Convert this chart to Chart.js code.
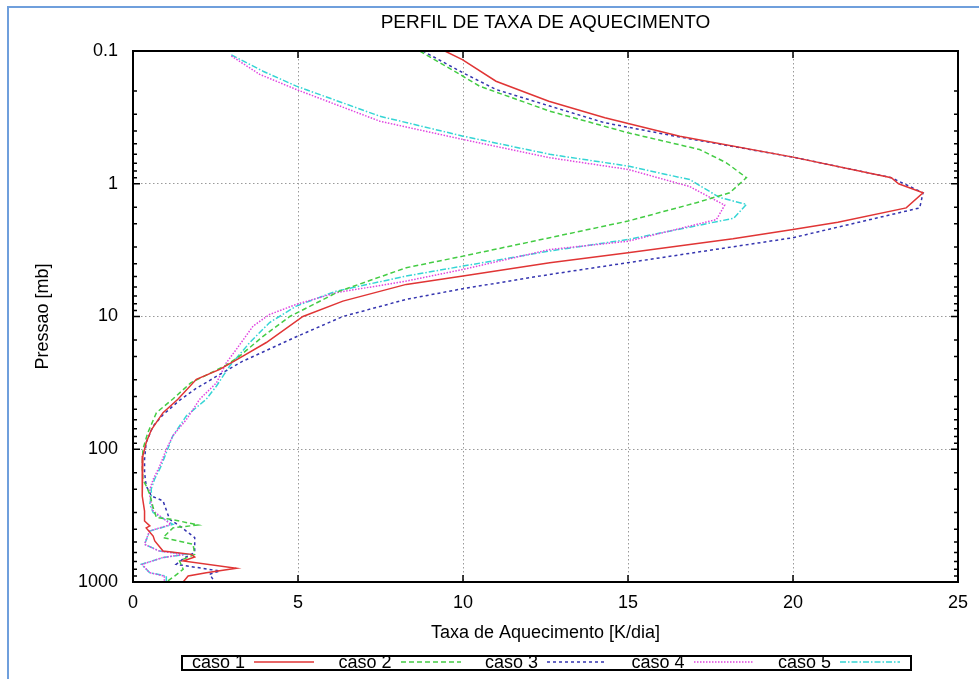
<!DOCTYPE html>
<html>
<head>
<meta charset="utf-8">
<script src="https://cdn.jsdelivr.net/npm/chart.js@4.4.1/dist/chart.umd.min.js"></script>
<style>
  html, body { margin: 0; padding: 0; background: #fff; overflow: hidden; }
  #page { position: relative; width: 979px; height: 679px; font-family: "Liberation Sans", Arial, sans-serif; }
  #edge { position: absolute; left: 7px; top: 6px; width: 1000px; height: 700px;
          border-left: 2px solid #6f9fdc; border-top: 2px solid #6f9fdc; }
  #chart { position: absolute; left: 0; top: 0; }
  #legendBox { position: absolute; left: 181px; top: 655px; width: 727px; height: 12px; border: 2px solid #000; }
  .lbl { position: absolute; top: 653px; font-size: 18px; line-height: 18px; color: #000; white-space: nowrap; }
  .smp { position: absolute; top: 657px; }
</style>
</head>
<body>
<div id="page">
  <div id="edge"></div>
  <canvas id="chart" width="979" height="679"></canvas>
  <div id="legendBox"></div>
  <div id="legend"></div>
</div>
<script>
// heating rate [K/dia] against pressure [mb]
const caso1X = [9.45, 9.98, 11.0, 12.6, 14.3, 16.57, 20.0, 22.98, 23.2, 23.94, 23.43, 21.36, 20.0, 18.18, 15.0, 12.63, 10.0, 8.28, 6.36, 5.15, 4.04, 3.33, 2.63, 1.92, 1.36, 0.91, 0.56, 0.4, 0.3, 0.28, 0.28, 0.35, 0.35, 0.51, 0.4, 0.61, 0.66, 0.91, 1.77, 1.87, 1.52, 3.13, 2.22, 1.67, 1.52];
const caso1P = [0.1, 0.116, 0.169, 0.239, 0.318, 0.438, 0.63, 0.9, 1.0, 1.17, 1.52, 1.95, 2.21, 2.6, 3.31, 3.93, 4.96, 5.73, 7.66, 10, 15.7, 19.9, 25, 29.7, 42, 53, 71, 89, 112, 159, 225, 292, 347, 378, 391, 451, 491, 585, 619, 647, 694, 789, 851, 902, 1000];

const caso2X = [8.69, 10.0, 10.5, 12.63, 15.0, 17.17, 17.98, 18.59, 18.08, 17.07, 15.0, 12.63, 10.0, 8.28, 6.26, 4.75, 3.94, 3.23, 2.78, 1.75, 1.2, 0.71, 0.45, 0.3, 0.28, 0.3, 0.4, 0.51, 0.61, 0.71, 1.16, 1.97, 1.21, 0.91, 1.82, 1.87, 1.41, 1.52, 1.26, 1.01];
const caso2P = [0.1, 0.155, 0.184, 0.284, 0.413, 0.552, 0.695, 0.9, 1.17, 1.39, 1.91, 2.55, 3.51, 4.29, 6.44, 10, 14.1, 19.9, 23.6, 31.6, 42, 53, 75, 100, 134, 169, 189, 219, 275, 327, 337, 372, 391, 463, 520, 619, 694, 802, 902, 1000];

const caso3X = [8.78, 10.0, 11.0, 12.63, 14.29, 16.57, 20.0, 22.98, 23.94, 23.84, 20.0, 15.0, 12.63, 10.0, 8.28, 6.36, 4.95, 3.33, 2.63, 1.9, 1.4, 0.91, 0.61, 0.4, 0.35, 0.35, 0.4, 0.56, 0.91, 1.11, 1.41, 1.87, 1.87, 1.57, 1.31, 2.63, 2.32, 2.48];
const caso3P = [0.1, 0.146, 0.195, 0.26, 0.347, 0.445, 0.63, 0.9, 1.17, 1.52, 2.55, 3.93, 4.82, 6.17, 7.43, 10, 14.2, 21.7, 27.3, 35, 43, 55, 67, 89, 119, 150, 189, 225, 245, 337, 378, 463, 600, 655, 736, 826, 875, 1000];

const caso4X = [2.98, 3.84, 4.95, 7.48, 10.0, 12.63, 15.0, 16.87, 17.93, 17.68, 15.0, 12.63, 10.0, 8.28, 6.16, 4.95, 4.14, 3.64, 3.13, 2.83, 2.53, 2.02, 1.62, 1.21, 1.01, 0.81, 0.61, 0.51, 0.51, 0.6, 1.15, 0.5, 0.35, 0.8, 1.55, 0.9, 0.28, 0.5, 0.95, 0.95];
const caso4P = [0.109, 0.15, 0.195, 0.338, 0.464, 0.637, 0.78, 1.05, 1.45, 1.86, 2.71, 3.13, 4.42, 5.41, 6.62, 8.1, 9.65, 11.8, 17.7, 22.3, 31.6, 42, 59.6, 79, 100, 134, 169, 200, 225, 290, 368, 413, 520, 585, 619, 655, 736, 851, 902, 1000];

const caso5X = [2.98, 3.94, 4.95, 7.48, 10.0, 12.63, 15.0, 16.87, 17.78, 18.59, 18.2, 15.0, 12.63, 10.0, 8.28, 6.16, 4.95, 4.14, 3.54, 2.93, 2.53, 2.22, 1.62, 1.2, 1.05, 0.85, 0.65, 0.55, 0.56, 0.51, 0.61, 1.21, 0.51, 0.35, 0.81, 1.62, 0.91, 0.25, 0.51, 1.01, 1.01];
const caso5P = [0.107, 0.142, 0.184, 0.31, 0.438, 0.6, 0.736, 0.93, 1.27, 1.43, 1.82, 2.63, 3.21, 4.17, 4.96, 6.44, 8.35, 11.1, 15.7, 23.6, 33.4, 42, 56, 80, 100, 134, 169, 200, 219, 260, 300, 368, 413, 520, 585, 619, 655, 736, 851, 902, 1000];

const seriesNames = ["caso 1", "caso 2", "caso 3", "caso 4", "caso 5"];
const seriesX = [caso1X, caso2X, caso3X, caso4X, caso5X];
const seriesP = [caso1P, caso2P, caso3P, caso4P, caso5P];
const seriesColors = ["#e03535", "#44cc44", "#3535b0", "#e045e0", "#35d5d5"];
const seriesDash = [[], [5, 3], [3, 3], [1.5, 1.5], [6, 2, 1.5, 2]];

const xTicks = [0, 5, 10, 15, 20, 25];

const titleText = "PERFIL DE TAXA DE AQUECIMENTO";
const xTitle = "Taxa de Aquecimento [K/dia]";
const yTitle = "Pressao [mb]";

function isMajor(v) {
  const l = Math.log10(v);
  return Math.abs(l - Math.round(l)) < 1e-6;
}

Chart.defaults.font.family = '"Liberation Sans", Arial, sans-serif';
Chart.defaults.font.size = 18;
Chart.defaults.color = "#000";

const datasets = seriesNames.map((name, i) => ({
  label: name,
  data: seriesP[i].map((p, k) => ({ x: seriesX[i][k], y: p })),
  showLine: true,
  borderColor: seriesColors[i],
  backgroundColor: seriesColors[i],
  borderDash: seriesDash[i],
  borderWidth: 1.5,
  pointRadius: 0,
  tension: 0
}));

// gnuplot style frame, inward tics and the title
const framePlugin = {
  id: "frame",
  afterDraw(chart) {
    const { ctx, chartArea: a } = chart;
    const x = chart.scales.x, y = chart.scales.y;
    ctx.save();
    ctx.strokeStyle = "#000";
    ctx.lineWidth = 1.5;
    ctx.beginPath();
    y.ticks.forEach(t => {
      const py = y.getPixelForValue(t.value);
      const len = isMajor(t.value) ? 7 : 4;
      ctx.moveTo(a.left, py); ctx.lineTo(a.left + len, py);
      ctx.moveTo(a.right, py); ctx.lineTo(a.right - len, py);
    });
    x.ticks.forEach(t => {
      const px = x.getPixelForValue(t.value);
      ctx.moveTo(px, a.bottom); ctx.lineTo(px, a.bottom - 7);
      ctx.moveTo(px, a.top); ctx.lineTo(px, a.top + 7);
    });
    ctx.stroke();
    ctx.lineWidth = 2;
    ctx.strokeRect(a.left, a.top, a.right - a.left, a.bottom - a.top);
    ctx.fillStyle = "#000";
    ctx.font = '19px "Liberation Sans", Arial, sans-serif';
    ctx.textAlign = "center";
    ctx.textBaseline = "middle";
    ctx.fillText(titleText, (a.left + a.right) / 2, 23);
    ctx.restore();
  }
};

const chart = new Chart(document.getElementById("chart"), {
  type: "scatter",
  data: { datasets },
  options: {
    responsive: false,
    animation: false,
    layout: { padding: { left: 20, top: 51, right: 21, bottom: 35 } },
    plugins: { legend: { display: false }, tooltip: { enabled: false }, title: { display: false } },
    scales: {
      x: {
        type: "linear", min: 0, max: 25,
        afterBuildTicks: s => { s.ticks = xTicks.map(v => ({ value: v })); },
        ticks: { padding: 10, maxRotation: 0 },
        grid: {
          drawTicks: false, lineWidth: 1,
          color: c => (c.tick && (c.tick.value === 0 || c.tick.value === 25)) ? "rgba(0,0,0,0)" : "#9a9a9a"
        },
        border: { display: false, dash: [1.5, 2.5] },
        title: { display: true, text: xTitle, padding: { top: 0, bottom: 0 } },
        afterFit: s => { s.height = 62; }
      },
      y: {
        type: "logarithmic", reverse: true, min: 0.1, max: 1000,
        ticks: {
          autoSkip: false, padding: 15,
          callback: v => isMajor(v) ? String(Number(v.toPrecision(6))) : ""
        },
        grid: {
          drawTicks: false, lineWidth: 1,
          color: c => (c.tick && isMajor(c.tick.value) && c.tick.value > 0.15 && c.tick.value < 900) ? "#9a9a9a" : "rgba(0,0,0,0)"
        },
        border: { display: false, dash: [1.5, 2.5] },
        title: { display: true, text: yTitle, padding: { top: 12, bottom: 0 } },
        afterFit: s => { s.width = 113; }
      }
    }
  },
  plugins: [framePlugin]
});

// legend in gnuplot order: label first, then the line sample
const legend = document.getElementById("legend");
chart.data.datasets.forEach((ds, i) => {
  const left = 192 + i * 146.5;
  const lbl = document.createElement("div");
  lbl.className = "lbl";
  lbl.style.left = left + "px";
  lbl.textContent = ds.label;
  legend.appendChild(lbl);
  const svgNS = "http://www.w3.org/2000/svg";
  const svg = document.createElementNS(svgNS, "svg");
  svg.setAttribute("class", "smp");
  svg.setAttribute("width", "60");
  svg.setAttribute("height", "10");
  svg.style.left = (left + 62) + "px";
  const line = document.createElementNS(svgNS, "line");
  line.setAttribute("x1", "0"); line.setAttribute("x2", "60");
  line.setAttribute("y1", "5"); line.setAttribute("y2", "5");
  line.setAttribute("stroke", ds.borderColor);
  line.setAttribute("stroke-width", "1.5");
  if (ds.borderDash.length) line.setAttribute("stroke-dasharray", ds.borderDash.join(" "));
  svg.appendChild(line);
  legend.appendChild(svg);
});
</script>
</body>
</html>
